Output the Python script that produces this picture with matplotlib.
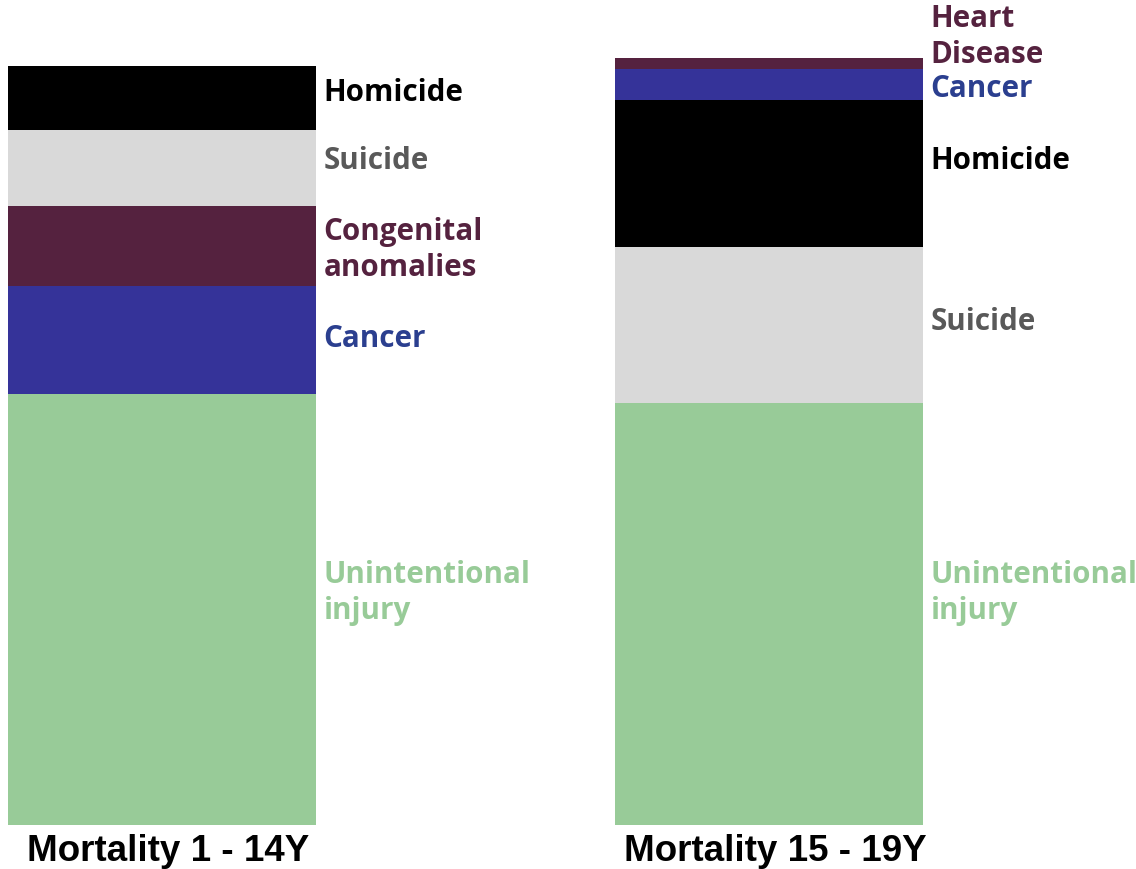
import matplotlib.pyplot as plt
import numpy as np

# share of deaths by cause (bottom -> top)
groups = ['Mortality 1 - 14Y', 'Mortality 15 - 19Y']

causes_young = ['Unintentional\ninjury', 'Cancer', 'Congenital\nanomalies', 'Suicide', 'Homicide']
values_young = [43.1, 10.8, 8.0, 7.6, 6.4]

causes_teen = ['Unintentional\ninjury', 'Suicide', 'Homicide', 'Cancer', 'Heart\nDisease']
values_teen = [42.2, 15.6, 14.7, 3.1, 1.1]

# label heights (same units as values) so the small top segments don't collide
label_y_young = [23.3, 48.7, 57.6, 66.5, 73.3]
label_y_teen = [23.3, 50.4, 66.5, 73.7, 78.9]

bar_col = {'Unintentional\ninjury': '#98cb98', 'Cancer': '#353399',
           'Congenital\nanomalies': '#55223f', 'Suicide': '#d9d9d9',
           'Homicide': '#000000', 'Heart\nDisease': '#55223f'}
txt_col = {'Unintentional\ninjury': '#98cb98', 'Cancer': '#2b3f8f',
           'Congenital\nanomalies': '#55223f', 'Suicide': '#595959',
           'Homicide': '#000000', 'Heart\nDisease': '#55223f'}

fig = plt.figure(figsize=(11.36, 8.7), dpi=100)
ax = fig.add_axes([0, 0, 1, 1])
width = 0.507

for i, (causes, vals, ly) in enumerate([(causes_young, values_young, label_y_young),
                                        (causes_teen, values_teen, label_y_teen)]):
    bottom = 0
    for c, v, y in zip(causes, vals, ly):
        ax.bar(i, v, width=width, bottom=bottom, color=bar_col[c], linewidth=0)
        ax.text(i + width / 2 + 0.013, y, c, color=txt_col[c], fontsize=21.3,
                fontweight='bold', family='Open Sans', va='center', ha='left',
                linespacing=1.25)
        bottom += v
    ax.text(i + 0.01, -2.6, groups[i], ha='center', va='center', fontsize=26.5,
            fontweight='bold', family='Liberation Sans')

ax.set_xlim(-0.267, 1.605)
ax.set_ylim(-4.4, 82.6)
ax.axis('off')

fig.savefig('out.png', dpi=100)
